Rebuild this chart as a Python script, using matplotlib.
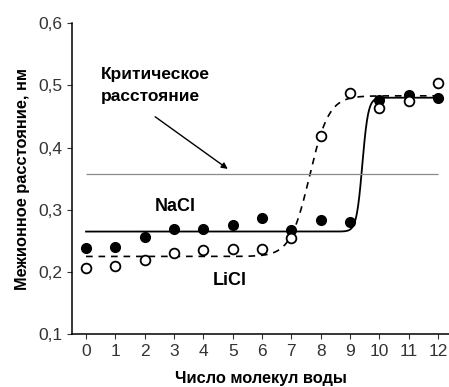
import numpy as np
import matplotlib.pyplot as plt

plt.rcParams['font.family'] = ['Liberation Sans', 'DejaVu Sans']

# water molecules
n_water = [0, 1, 2, 3, 4, 5, 6, 7, 8, 9, 10, 11, 12]
nacl = [0.239, 0.241, 0.256, 0.269, 0.269, 0.275, 0.286, 0.268, 0.283, 0.281, 0.476, 0.484, 0.480]
licl = [0.207, 0.210, 0.219, 0.231, 0.235, 0.237, 0.237, 0.254, 0.419, 0.488, 0.463, 0.475, 0.504]

# fitted step curves: low level, high level, centre, width
nacl_fit = (0.265, 0.480, 9.42, 0.10)
licl_fit = (0.225, 0.483, 7.62, 0.33)

critical = 0.3575
xticks = list(range(13))
yticks = [0.1, 0.2, 0.3, 0.4, 0.5, 0.6]
yticklabels = ['0,1', '0,2', '0,3', '0,4', '0,5', '0,6']


def step_curve(x, low, high, x0, w):
    return low + (high - low) / (1 + np.exp(-(x - x0) / w))


fig = plt.figure(figsize=(4.49, 3.87), dpi=100)
ax = fig.add_axes([0.1604, 0.1362, 0.8396, 0.8044])

xs = np.linspace(0, 12, 600)
ax.plot(xs, step_curve(xs, *nacl_fit), color='black', lw=1.3)
ax.plot(xs, step_curve(xs, *licl_fit), color='black', lw=1.2, dashes=(4, 3.5))
ax.hlines(critical, 0, 12, color='#8a8a8a', lw=0.9)

ax.plot(n_water, nacl, 'o', ms=7, color='black', zorder=3)
ax.plot(n_water, licl, 'o', ms=7, mfc='white', mec='black', mew=1.3, zorder=3)

ax.text(0.51, 0.518, 'Критическое', fontsize=12.5, fontweight='bold', va='center')
ax.text(0.51, 0.482, 'расстояние', fontsize=12.5, fontweight='bold', va='center')
ax.annotate('', xy=(4.91, 0.363), xytext=(2.28, 0.452),
            arrowprops=dict(arrowstyle='-|>', lw=1, color='black', mutation_scale=9))
ax.text(3.03, 0.306, 'NaCl', fontsize=13, fontweight='bold', ha='center', va='center')
ax.text(4.91, 0.186, 'LiCl', fontsize=13, fontweight='bold', ha='center', va='center')

ax.set_xlim(-0.477, 12.375)
ax.set_ylim(0.1, 0.6)
ax.set_xticks(xticks)
ax.set_yticks(yticks)
ax.set_yticklabels(yticklabels)
ax.tick_params(length=3.6, width=0.8, labelsize=12.5, colors='#333333', pad=3.5)

for side in ['top', 'right']:
    ax.spines[side].set_visible(False)
for side in ['left', 'bottom']:
    ax.spines[side].set_linewidth(1.1)

ax.set_xlabel('Число молекул воды', fontsize=11.8, fontweight='bold', labelpad=8.5)
ax.set_ylabel('Межионное расстояние, нм', fontsize=11.8, fontweight='bold', labelpad=6)

fig.savefig('out.png', dpi=100)
